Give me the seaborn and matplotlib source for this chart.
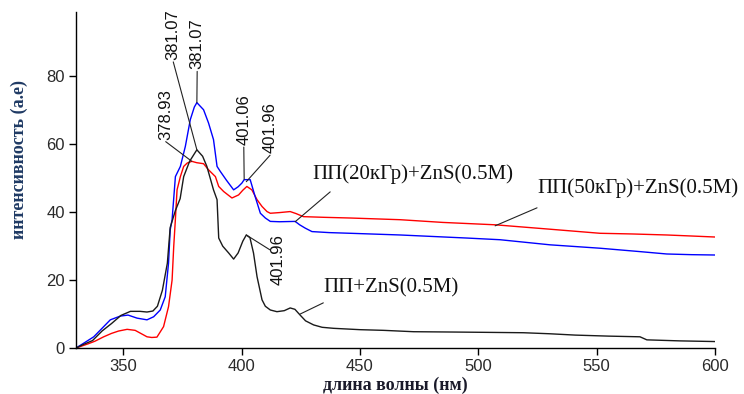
import matplotlib
matplotlib.use("Agg")
import matplotlib.pyplot as plt
import seaborn as sns
import pandas as pd

# ---------------- data ----------------
x_black = [330, 333, 337, 341, 345, 349, 353, 357, 360, 362.5, 364.4, 366.5, 368.6, 369.8,
           372, 374, 375.5, 378, 381.07, 383.5, 385.3, 388.1, 389.6, 390.3, 392, 394.5, 396.6,
           398.5, 400.5, 401.96, 403.5, 405, 406.5, 408.6, 410, 412.1, 414.9, 418, 420.5,
           422.5, 424.7, 427, 430.4, 434, 438.8, 450, 460, 472.6, 490, 505, 519, 530, 541,
           555, 568.3, 571.2, 585, 600]
y_black = [0, 1, 2.2, 5.0, 7.2, 9.6, 10.8, 10.8, 10.6, 10.9, 12.3, 17, 25, 35.5,
           40.5, 44, 50.5, 55, 58.4, 56.5, 53.5, 46.6, 43.7, 32.4, 30.0, 28, 26.2,
           28, 31.5, 33.3, 32.5, 28, 21, 14.2, 12.3, 11.2, 10.7, 11.0, 11.8,
           11.4, 9.7, 8.0, 6.8, 6.1, 5.8, 5.4, 5.2, 4.8, 4.7, 4.6, 4.5, 4.2, 3.8,
           3.5, 3.3, 2.4, 2.1, 1.9]

x_red = [330, 335, 338, 341.7, 345, 348, 351.6, 355, 357.9, 360, 362, 364.2, 367, 369.1,
         370.6, 371.3, 372, 372.7, 374.1, 375.5, 377, 378.93, 381, 383.9, 386, 388.9, 390.3,
         392.4, 395.9, 398.7, 400.5, 402.2, 404.3, 406.5, 408.6, 410.7, 412.1, 416, 420.5,
         423, 426.1, 435, 445.9, 467, 485, 507.1, 530.3, 551.4, 565, 579.6, 590, 600]
y_red = [0, 1.2, 2.0, 3.3, 4.3, 5.0, 5.5, 5.2, 4.1, 3.3, 3.1, 3.2, 6.3, 12.2,
         20, 30, 38, 46.6, 50.5, 53.5, 54.5, 55.0, 54.6, 54.3, 52.5, 50.5, 47.6,
         46.1, 44.2, 45.1, 46.5, 47.6, 46.6, 43.7, 41.7, 40.2, 39.7, 39.9, 40.2,
         39.6, 38.7, 38.5, 38.3, 37.8, 37.0, 36.3, 35.0, 33.8, 33.6, 33.3, 33.0, 32.7]

x_blue = [330, 333, 337.5, 341.7, 344.5, 348.7, 352, 355.8, 360, 362.8, 365.6, 367.7, 369.1,
          369.8, 370.6, 372, 374.1, 376.2, 378.3, 380, 381.07, 383.9, 386, 388.1, 389.6,
          391, 393.5, 396.6, 398.5, 400.1, 401.06, 403.6, 405.7, 407.9, 410, 412.1, 416,
          422.6, 424.5, 426.9, 429.7, 437, 445.9, 467, 495.1, 509.2, 530.3, 551.4, 568.3,
          579.6, 590, 600]
y_blue = [0, 1.3, 3.3, 6.3, 8.3, 9.4, 9.7, 8.8, 8.3, 9.2, 11.2, 15.1, 25,
          34.8, 37.8, 50.5, 53.5, 59.4, 67.3, 71, 72.3, 70.2, 66.3, 61.4, 53.5,
          52, 49.5, 46.6, 47.5, 48.6, 49.6, 49.6, 44.6, 39.7, 38.3, 37.3, 37.2,
          37.3, 36.3, 35.3, 34.3, 34.0, 33.8, 33.3, 32.4, 31.9, 30.4, 29.4, 28.4,
          27.7, 27.5, 27.4]

# peak annotations: label, peak x, peak y, text x, text y
peak_labels = ["381.07", "381.07", "378.93", "401.06", "401.96"]
peak_x = [381.07, 381.07, 378.93, 401.06, 401.96]
peak_y = [58.4, 72.3, 55.0, 49.7, 49.0]
peak_tx = [371.1, 381.2, 367.9, 400.9, 412.0]
peak_ty = [84.3, 81.5, 60.8, 59.2, 56.8]

# lower peak annotation (label below the leader)
low_label = "401.96"
low_px, low_py = 401.96, 33.3
low_lx, low_ly = 412.0, 28.9      # leader end
low_tx, low_ty = 415.5, 33.5      # text top

# series labels: text, text x, text y, leader start, leader end
series_labels = ["ПП(20кГр)+ZnS(0.5M)", "ПП(50кГр)+ZnS(0.5M)", "ПП+ZnS(0.5M)"]
series_tx = [429.8, 524.8, 434.5]
series_ty = [51.3, 47.2, 17.7]
lead_x0 = [437.4, 524.8, 434.5]
lead_y0 = [46.0, 41.3, 13.3]
lead_x1 = [422.6, 507.1, 424.7]
lead_y1 = [37.2, 36.0, 10.0]

xticks = [350, 400, 450, 500, 550, 600]
yticks = [0, 20, 40, 60, 80]

# ---------------- plot ----------------
sns.set_style("ticks")
plt.rcParams["font.family"] = ["Liberation Sans", "DejaVu Sans"]

fig = plt.figure(figsize=(7.44, 3.94), dpi=100)
ax = fig.add_axes([76 / 744, 46 / 394, 639 / 744, 336 / 394])

df_b = pd.DataFrame({"x": x_black, "y": y_black})
df_r = pd.DataFrame({"x": x_red, "y": y_red})
df_u = pd.DataFrame({"x": x_blue, "y": y_blue})

sns.lineplot(data=df_r, x="x", y="y", color="#ff0000", lw=1.0, sort=False, estimator=None, ax=ax)
sns.lineplot(data=df_u, x="x", y="y", color="#0000ff", lw=1.0, sort=False, estimator=None, ax=ax)
sns.lineplot(data=df_b, x="x", y="y", color="#1a1a1a", lw=1.0, sort=False, estimator=None, ax=ax)

ax.set_xlim(330, 600)
ax.set_ylim(0, 99)
ax.set_xticks(xticks)
ax.set_yticks(yticks)
ax.tick_params(axis="both", direction="out", length=5, width=1, colors="black",
               labelsize=12, pad=3, labelcolor="#2a2a2a")
for s in ["top", "right"]:
    ax.spines[s].set_visible(False)
for s in ["left", "bottom"]:
    ax.spines[s].set_color("black")
    ax.spines[s].set_linewidth(1)

serif = ["Liberation Serif", "DejaVu Serif"]
ax.set_xlabel("длина волны (нм)", family=serif, fontsize=13, fontweight="bold",
              color="#1a1a2a", labelpad=2)
ax.set_ylabel("интенсивность (а.е)", family=serif, fontsize=13, fontweight="bold",
              color="#1f3a64")
ax.yaxis.set_label_coords(-0.075, 0.56)

lc = "#222222"
# peak annotations
for lab, px, py, tx, ty in zip(peak_labels, peak_x, peak_y, peak_tx, peak_ty):
    ax.plot([tx, px], [ty, py], color=lc, lw=0.8)
    ax.text(tx, ty + 0.6, lab, rotation=90, ha="center", va="bottom", fontsize=12,
            color="#111111")

ax.plot([low_px, low_lx], [low_py, low_ly], color=lc, lw=0.8)
ax.text(low_tx, low_ty, low_label, rotation=90, ha="center", va="top", fontsize=12,
        color="#111111")

# series labels
for lab, tx, ty, x0, y0, x1, y1 in zip(series_labels, series_tx, series_ty,
                                       lead_x0, lead_y0, lead_x1, lead_y1):
    ax.plot([x0, x1], [y0, y1], color=lc, lw=0.8)
    ax.text(tx, ty, lab, ha="left", va="center", family=serif, fontsize=15,
            color="#111111")

fig.savefig("out.png", dpi=100)
